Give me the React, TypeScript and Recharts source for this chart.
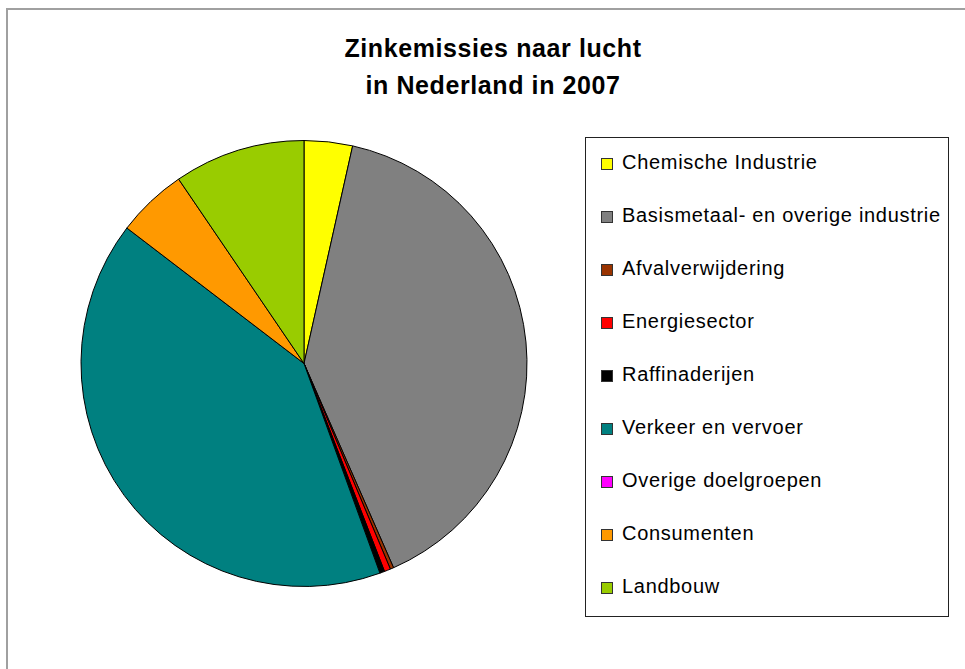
import { PieChart, Pie, Cell, Legend } from "recharts";

// Zinkemissies naar lucht, aandeel per doelgroep (%), 2007
const categories = [
  "Chemische Industrie",
  "Basismetaal- en overige industrie",
  "Afvalverwijdering",
  "Energiesector",
  "Raffinaderijen",
  "Verkeer en vervoer",
  "Overige doelgroepen",
  "Consumenten",
  "Landbouw",
];
const shares = [3.5, 39.9, 0.25, 0.45, 0.35, 40.9, 0, 5.1, 9.5];
const colors = [
  "#FFFF00",
  "#808080",
  "#993300",
  "#FF0000",
  "#000000",
  "#008080",
  "#FF00FF",
  "#FF9900",
  "#99CC00",
];
const titleLines = ["Zinkemissies naar lucht", "in Nederland in 2007"];

const data = categories.map((name, i) => ({ name, value: shares[i] }));

const font = '"Liberation Sans", Arial, Helvetica, sans-serif';

function LegendBox(props: any) {
  const items = props.payload || [];
  return (
    <div
      style={{
        position: "relative",
        width: 364,
        height: 480,
        boxSizing: "border-box",
        border: "1px solid #222",
        background: "#fff",
      }}
    >
      {items.map((item: any, i: number) => (
        <div
          key={item.value}
          style={{
            position: "absolute",
            left: 15,
            top: 9 + 53 * i,
            height: 30,
            display: "flex",
            alignItems: "center",
            whiteSpace: "nowrap",
          }}
        >
          <span
            style={{
              display: "inline-block",
              width: 12,
              height: 12,
              boxSizing: "border-box",
              background: item.color,
              border: "1px solid #333",
              position: "relative",
              top: 1.5,
              marginRight: 9,
            }}
          />
          <span
            style={{
              fontFamily: font,
              fontSize: 20,
              letterSpacing: 0.7,
              color: "#000",
            }}
          >
            {item.value}
          </span>
        </div>
      ))}
    </div>
  );
}

export default function App() {
  return (
    <div
      style={{
        position: "absolute",
        left: 0,
        top: 0,
        width: 965,
        height: 669,
        overflow: "hidden",
        background: "#fff",
      }}
    >
      <div
        style={{
          position: "absolute",
          left: 6,
          top: 8,
          width: 980,
          height: 680,
          border: "2px solid #a0a0a0",
        }}
      />
      <div
        style={{
          position: "absolute",
          left: 293,
          top: 29.5,
          width: 400,
          textAlign: "center",
          fontFamily: font,
          fontWeight: "bold",
          fontSize: 25,
          letterSpacing: 0.6,
          lineHeight: "37px",
          color: "#000",
        }}
      >
        {titleLines.map((l) => (
          <div key={l}>{l}</div>
        ))}
      </div>
      <div style={{ position: "absolute", left: 0, top: 0 }}>
        <PieChart width={965} height={669} margin={{ top: 0, right: 0, bottom: 0, left: 0 }}>
          <Pie
            data={data}
            dataKey="value"
            nameKey="name"
            cx={304}
            cy={363.5}
            outerRadius={223}
            startAngle={90}
            endAngle={-270}
            stroke="#000"
            strokeWidth={1}
            label={false}
            labelLine={false}
            isAnimationActive={false}
          >
            {data.map((d, i) => (
              <Cell key={d.name} fill={colors[i]} />
            ))}
          </Pie>
          <Legend
            layout="vertical"
            align="right"
            verticalAlign="top"
            content={LegendBox}
            itemSorter={(item: any) => categories.indexOf(item.value)}
            wrapperStyle={{ left: 585, top: 137, right: "auto", bottom: "auto", width: 364, height: 480 }}
          />
        </PieChart>
      </div>
    </div>
  );
}
